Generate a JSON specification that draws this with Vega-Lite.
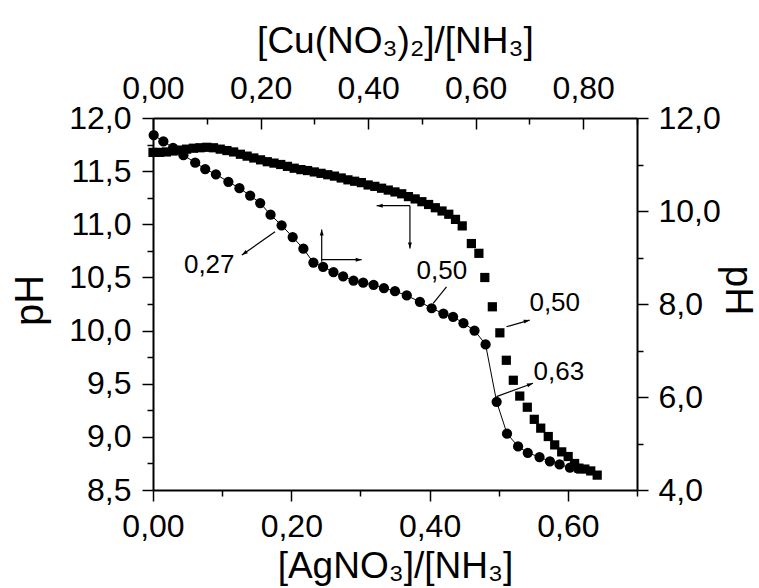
{
  "$schema": "https://vega.github.io/schema/vega-lite/v6.json",
  "width": 484,
  "height": 372,
  "autosize": {"type": "none"},
  "padding": {"left": 153, "top": 118, "right": 122, "bottom": 98},
  "background": "white",
  "config": {
    "view": {"stroke": null},
    "axis": {
      "domainColor": "#000", "domainWidth": 2,
      "tickColor": "#000", "tickWidth": 1.5,
      "labelColor": "#000", "titleColor": "#000",
      "labelFont": "Liberation Sans", "titleFont": "Liberation Sans",
      "labelFontSize": 32, "titleFontSize": 37, "titleFontWeight": "normal",
      "grid": false, "labelFlush": false, "labelOverlap": false
    }
  },
  "datasets": {
    "circles": [
      {"x":0.001,"y":11.84},{"x":0.015,"y":11.78},{"x":0.029,"y":11.72},{"x":0.044,"y":11.65},
      {"x":0.061,"y":11.58},{"x":0.0755,"y":11.52},{"x":0.091,"y":11.47},{"x":0.109,"y":11.40},
      {"x":0.125,"y":11.34},{"x":0.1405,"y":11.27},{"x":0.155,"y":11.20},{"x":0.170,"y":11.09},
      {"x":0.186,"y":10.99},{"x":0.202,"y":10.88},{"x":0.2175,"y":10.77},{"x":0.232,"y":10.64},
      {"x":0.246,"y":10.60},{"x":0.261,"y":10.55},{"x":0.275,"y":10.51},{"x":0.290,"y":10.47},
      {"x":0.304,"y":10.45},{"x":0.319,"y":10.43},{"x":0.334,"y":10.40},{"x":0.350,"y":10.37},
      {"x":0.367,"y":10.33},{"x":0.386,"y":10.27},{"x":0.403,"y":10.21},{"x":0.420,"y":10.16},
      {"x":0.434,"y":10.13},{"x":0.449,"y":10.07},{"x":0.465,"y":10.00},{"x":0.481,"y":9.87},
      {"x":0.497,"y":9.33},{"x":0.512,"y":9.03},{"x":0.528,"y":8.91},{"x":0.542,"y":8.85},
      {"x":0.559,"y":8.81},{"x":0.574,"y":8.77},{"x":0.588,"y":8.74},{"x":0.603,"y":8.71},
      {"x":0.615,"y":8.70}
    ],
    "squares": [
      {"tx":0.000,"ry":11.26},{"tx":0.0125,"ry":11.26},{"tx":0.025,"ry":11.27},{"tx":0.0375,"ry":11.29},
      {"tx":0.05,"ry":11.31},{"tx":0.0625,"ry":11.33},{"tx":0.075,"ry":11.35},{"tx":0.0875,"ry":11.36},
      {"tx":0.10,"ry":11.37},{"tx":0.1125,"ry":11.36},{"tx":0.125,"ry":11.33},{"tx":0.1375,"ry":11.30},
      {"tx":0.15,"ry":11.27},{"tx":0.1625,"ry":11.22},{"tx":0.175,"ry":11.18},{"tx":0.1875,"ry":11.14},
      {"tx":0.20,"ry":11.10},{"tx":0.2125,"ry":11.06},{"tx":0.225,"ry":11.03},{"tx":0.2375,"ry":11.00},
      {"tx":0.25,"ry":10.96},{"tx":0.2625,"ry":10.92},{"tx":0.275,"ry":10.89},{"tx":0.2875,"ry":10.87},
      {"tx":0.30,"ry":10.84},{"tx":0.3125,"ry":10.81},{"tx":0.325,"ry":10.78},{"tx":0.3375,"ry":10.75},
      {"tx":0.35,"ry":10.71},{"tx":0.3625,"ry":10.67},{"tx":0.375,"ry":10.64},{"tx":0.3875,"ry":10.61},
      {"tx":0.40,"ry":10.56},{"tx":0.4125,"ry":10.53},{"tx":0.425,"ry":10.49},{"tx":0.4375,"ry":10.45},
      {"tx":0.45,"ry":10.41},{"tx":0.4625,"ry":10.37},{"tx":0.475,"ry":10.31},{"tx":0.4875,"ry":10.26},
      {"tx":0.50,"ry":10.20},{"tx":0.5125,"ry":10.14},{"tx":0.525,"ry":10.07},{"tx":0.5375,"ry":10.00},
      {"tx":0.55,"ry":9.93},{"tx":0.5625,"ry":9.82},{"tx":0.575,"ry":9.68},{"tx":0.592,"ry":9.30},
      {"tx":0.606,"ry":9.09},{"tx":0.617,"ry":8.57},{"tx":0.631,"ry":7.94},{"tx":0.645,"ry":7.38},
      {"tx":0.657,"ry":6.79},{"tx":0.670,"ry":6.36},{"tx":0.682,"ry":6.02},{"tx":0.696,"ry":5.78},
      {"tx":0.709,"ry":5.52},{"tx":0.721,"ry":5.33},{"tx":0.735,"ry":5.15},{"tx":0.747,"ry":4.97},
      {"tx":0.760,"ry":4.82},{"tx":0.772,"ry":4.72},{"tx":0.784,"ry":4.57},{"tx":0.792,"ry":4.47},
      {"tx":0.803,"ry":4.45},{"tx":0.814,"ry":4.41},{"tx":0.826,"ry":4.32}
    ],
    "arrows": [
      {"x":0.1765,"y":10.929,"x2":0.1285,"y2":10.710},
      {"x":0.2440,"y":10.647,"x2":0.2440,"y2":10.951},
      {"x":0.2440,"y":10.667,"x2":0.3018,"y2":10.667},
      {"x":0.3716,"y":11.175,"x2":0.3235,"y2":11.175},
      {"x":0.3716,"y":11.175,"x2":0.3716,"y2":10.773},
      {"x":0.4245,"y":10.412,"x2":0.4052,"y2":10.256},
      {"x":0.5112,"y":10.036,"x2":0.5448,"y2":10.099},
      {"x":0.4967,"y":9.378,"x2":0.5496,"y2":9.504}
    ],
    "heads": [
      {"x":0.1285,"y":10.710,"angle":235},
      {"x":0.2440,"y":10.951,"angle":0},
      {"x":0.3018,"y":10.667,"angle":90},
      {"x":0.3235,"y":11.175,"angle":270},
      {"x":0.3716,"y":10.773,"angle":180},
      {"x":0.5448,"y":10.099,"angle":74},
      {"x":0.5496,"y":9.504,"angle":70}
    ],
    "labels": [
      {"x":0.0813,"y":10.616,"text":"0,27"},
      {"x":0.4177,"y":10.559,"text":"0,50"},
      {"x":0.581,"y":10.258,"text":"0,50"},
      {"x":0.587,"y":9.61,"text":"0,63"}
    ]
  },
  "layer": [
    {
      "encoding": {
        "x": {
          "field": "x", "type": "quantitative",
          "scale": {"domain": [0, 0.7], "nice": false, "zero": false},
          "axis": {
            "orient": "bottom",
            "values": [0, 0.1, 0.2, 0.3, 0.4, 0.5, 0.6, 0.7],
            "labelExpr": "round(datum.value*10)%2==0 ? replace(format(datum.value,'.2f'),'.',',') : ''",
            "tickSize": {"condition": {"test": "round(datum.value*10)%2==0", "value": 11}, "value": 6},
            "labelPadding": 10,
            "title": "[AgNO₃]/[NH₃]",
            "titleX": 242, "titleY": 87, "titleAlign": "center", "titleBaseline": "alphabetic", "titleAngle": 0
          }
        },
        "y": {
          "field": "y", "type": "quantitative",
          "scale": {"domain": [8.5, 12], "nice": false, "zero": false},
          "axis": {
            "orient": "left",
            "values": [8.5, 8.75, 9, 9.25, 9.5, 9.75, 10, 10.25, 10.5, 10.75, 11, 11.25, 11.5, 11.75, 12],
            "labelExpr": "round(datum.value*4)%2==0 ? replace(format(datum.value,'.1f'),'.',',') : ''",
            "tickSize": {"condition": {"test": "round(datum.value*4)%2==0", "value": 11}, "value": 6},
            "labelPadding": 11,
            "title": "pH", "titleFontSize": 40,
            "titleX": -111, "titleY": 182, "titleAlign": "center", "titleBaseline": "alphabetic", "titleAngle": -90
          }
        }
      },
      "layer": [
        {
          "data": {"name": "circles"},
          "mark": {"type": "line", "color": "black", "strokeWidth": 1}
        },
        {
          "data": {"name": "circles"},
          "mark": {"type": "point", "shape": "circle", "filled": true, "color": "black", "opacity": 1, "size": 105}
        },
        {
          "data": {"name": "arrows"},
          "mark": {"type": "rule", "color": "black", "strokeWidth": 1.2},
          "encoding": {"x2": {"field": "x2"}, "y2": {"field": "y2"}}
        },
        {
          "data": {"name": "heads"},
          "mark": {"type": "point", "shape": "M0,0L-0.65,2L0.65,2Z", "filled": true, "color": "black", "opacity": 1, "size": 36, "strokeWidth": 0},
          "encoding": {"angle": {"field": "angle", "type": "quantitative", "scale": null}}
        },
        {
          "data": {"name": "labels"},
          "mark": {"type": "text", "font": "Liberation Sans", "fontSize": 26, "color": "black", "align": "center", "baseline": "middle"},
          "encoding": {"text": {"field": "text"}}
        }
      ]
    },
    {
      "data": {"name": "squares"},
      "mark": {"type": "point", "shape": "square", "filled": true, "color": "black", "opacity": 1, "size": 85},
      "encoding": {
        "x": {
          "field": "tx", "type": "quantitative",
          "scale": {"domain": [0, 0.9], "nice": false, "zero": false},
          "axis": {
            "orient": "top",
            "values": [0, 0.1, 0.2, 0.3, 0.4, 0.5, 0.6, 0.7, 0.8, 0.9],
            "labelExpr": "round(datum.value*10)%2==0 && datum.value < 0.85 ? replace(format(datum.value,'.2f'),'.',',') : ''",
            "tickSize": {"condition": {"test": "round(datum.value*10)%2==0", "value": -11}, "value": -6},
            "labelPadding": 24,
            "title": "[Cu(NO₃)₂]/[NH₃]",
            "titleX": 242, "titleY": -66, "titleAlign": "center", "titleBaseline": "alphabetic", "titleAngle": 0
          }
        },
        "y": {
          "field": "ry", "type": "quantitative",
          "scale": {"domain": [4, 12], "nice": false, "zero": false},
          "axis": {
            "orient": "right",
            "values": [4, 5, 6, 7, 8, 9, 10, 11, 12],
            "labelExpr": "datum.value%2==0 ? replace(format(datum.value,'.1f'),'.',',') : ''",
            "tickSize": {"condition": {"test": "datum.value%2==0", "value": 11}, "value": 6},
            "labelPadding": 10,
            "title": "pH", "titleFontSize": 39,
            "titleX": 88, "titleY": 172, "titleAlign": "center", "titleBaseline": "alphabetic", "titleAngle": 90
          }
        }
      }
    }
  ],
  "resolve": {"scale": {"x": "independent", "y": "independent"}}
}
